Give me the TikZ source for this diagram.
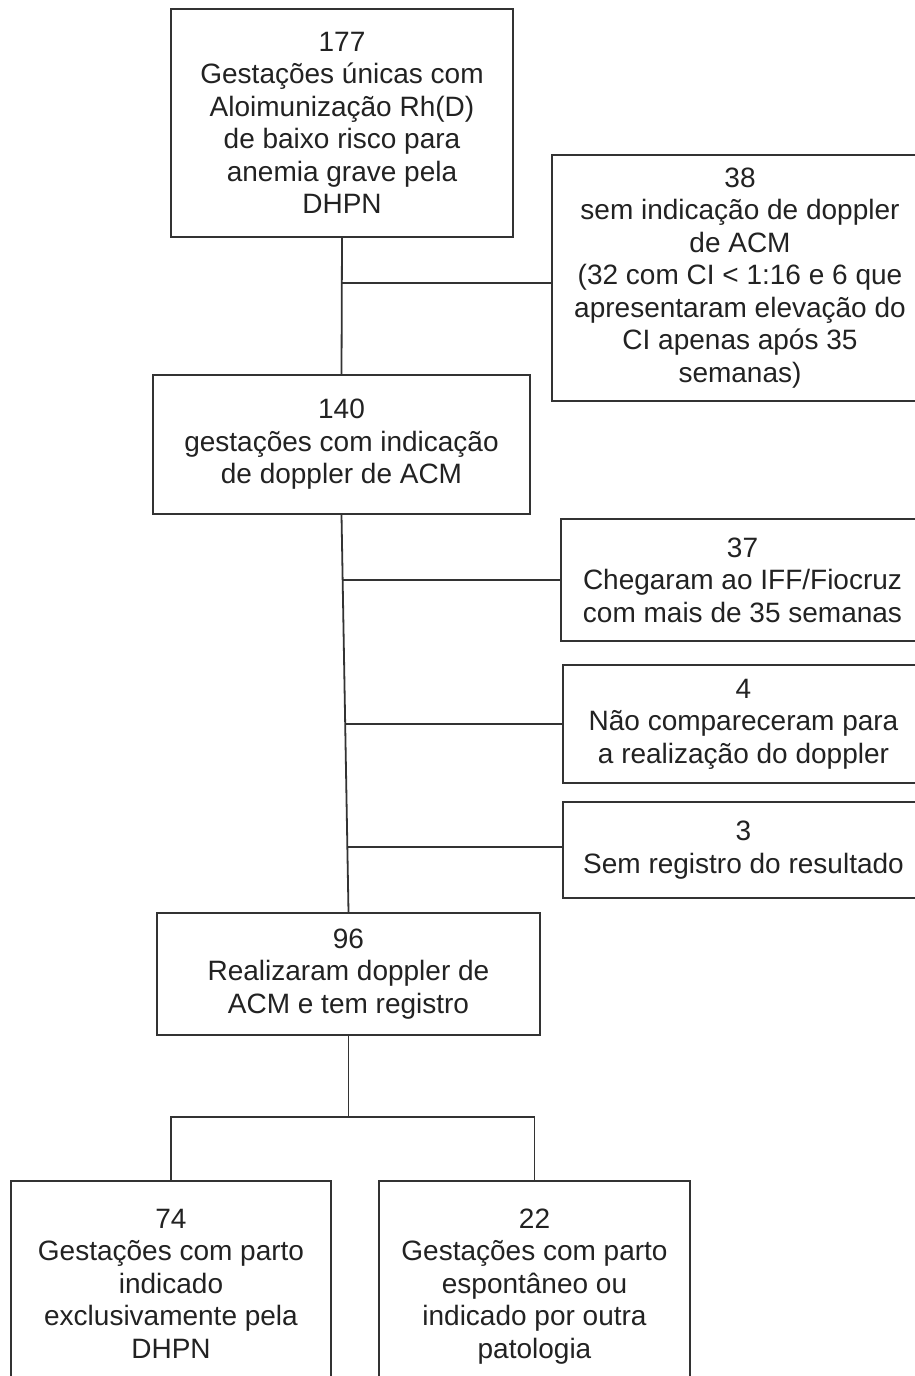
\documentclass[tikz,border=0pt]{standalone}
\usepackage{fontspec}
\setmainfont{Liberation Sans}
\usetikzlibrary{calc}
\definecolor{linegray}{HTML}{333333}
\definecolor{textgray}{HTML}{222222}
\begin{document}
\begin{tikzpicture}[x=1pt,y=-1pt,
  box/.style={draw=linegray, line width=1.6pt, fill=white, inner sep=0pt, align=center, text=textgray, font=\fontsize{28}{32.5}\selectfont},
  conn/.style={draw=linegray, line width=1.8pt}]
\useasboundingbox (0,0) rectangle (915,1376);
\clip (0,0) rectangle (915,1376);
\fill[white] (0,0) rectangle (915,1376);

\node[box, minimum width=342pt, minimum height=228pt] (n177) at (342,123)
  {177\\Gestações únicas com\\Aloimunização Rh(D)\\de baixo risco para\\anemia grave pela\\DHPN};
\node[box, minimum width=376pt, minimum height=246pt] (n38) at (740,278)
  {38\\sem indicação de doppler\\de ACM\\(32 com CI < 1:16 e 6 que\\apresentaram elevação do\\CI apenas após 35\\semanas)};
\node[box, minimum width=377pt, minimum height=139pt] (n140) at (341.5,444.5)
  {140\\gestações com indicação\\de doppler de ACM};
\node[box, minimum width=363pt, minimum height=122pt] (n37) at (742.5,580)
  {37\\Chegaram ao IFF/Fiocruz\\com mais de 35 semanas};
\node[box, minimum width=361pt, minimum height=118pt] (n4) at (743.5,724)
  {4\\Não compareceram para\\a realização do doppler};
\node[box, minimum width=361pt, minimum height=96pt] (n3) at (743.5,850)
  {3\\Sem registro do resultado};
\node[box, minimum width=383pt, minimum height=122pt] (n96) at (348.5,974)
  {96\\Realizaram doppler de\\ACM e tem registro};
\node[box, minimum width=320pt, minimum height=211pt] (n74) at (171,1286.5)
  {74\\Gestações com parto\\indicado\\exclusivamente pela\\DHPN\vphantom{g}};
\node[box, minimum width=311pt, minimum height=211pt] (n22) at (534.5,1286.5)
  {22\\Gestações com parto\\espontâneo ou\\indicado por outra\\patologia};

% connectors
\draw[conn] (n177.south) -- (n140.north);
\coordinate (j1) at (342,283);
\draw[conn] (j1) -- (j1 -| n38.west);

\draw[conn] (n140.south) -- (n96.north);
\coordinate (j2) at ($(n140.south)!0.165!(n96.north)$);
\coordinate (j3) at ($(n140.south)!0.526!(n96.north)$);
\coordinate (j4) at ($(n140.south)!0.835!(n96.north)$);
\draw[conn] (j2) -- (j2 -| n37.west);
\draw[conn] (j3) -- (j3 -| n4.west);
\draw[conn] (j4) -- (j4 -| n3.west);

\coordinate (sp) at (348.5,1117);
\draw[conn] (n96.south) -- (sp);
\draw[conn] (n74.north) -- (n74.north |- sp) -- (n22.north |- sp) -- (n22.north);
\end{tikzpicture}
\end{document}
